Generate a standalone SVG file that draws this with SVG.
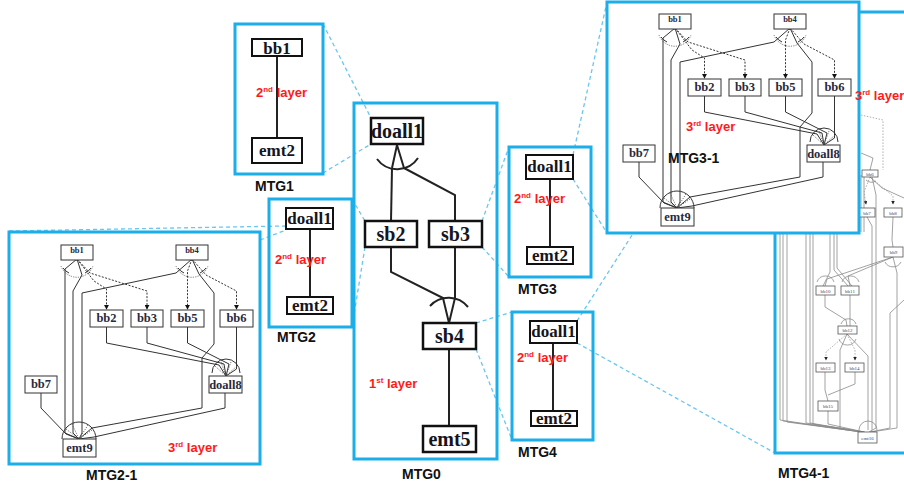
<svg xmlns="http://www.w3.org/2000/svg" width="904" height="487" viewBox="0 0 904 487">
<defs>
<style>
.frame{fill:none;stroke:#1aaeea;stroke-width:3}
.frameW{fill:#fff;stroke:#1aaeea;stroke-width:3}
.zl{fill:none;stroke:#6cc6ee;stroke-width:1.3;stroke-dasharray:4 3}
.nb{fill:#fff;stroke:#111;stroke-width:2.5}
.nb2{fill:#fff;stroke:#111;stroke-width:2}
.nt{font-family:"Liberation Serif","Times New Roman",serif;font-weight:bold;fill:#151520;text-anchor:middle}
.edge{fill:none;stroke:#222;stroke-width:2}
.red{font-family:"Liberation Sans",Arial,sans-serif;font-weight:bold;fill:#ff1a1a;font-size:13px}
.sup{font-size:8px}
.cap{font-family:"Liberation Sans",Arial,sans-serif;font-weight:bold;font-size:14px;fill:#111}
.ib{fill:#fff;stroke:#333;stroke-width:1}
.it{font-family:"Liberation Serif","Times New Roman",serif;font-weight:bold;fill:#2a2a3a;text-anchor:middle;font-size:12.5px}
.its{font-size:8.5px}
.ie{fill:none;stroke:#333;stroke-width:1}
.id{fill:none;stroke:#333;stroke-width:1;stroke-dasharray:2 1.5;marker-end:url(#ah)}
.dot{fill:none;stroke:#555;stroke-width:0.8;stroke-dasharray:1.2 1.2}
.g4{fill:none;stroke:#8a8a8a;stroke-width:0.8}
.g4d{fill:none;stroke:#999;stroke-width:0.8;stroke-dasharray:1.5 1.5}
.tb{fill:#fff;stroke:#555;stroke-width:0.8}
.tt{font-family:"Liberation Serif",serif;font-size:5px;fill:#446;text-anchor:middle}
</style>
<marker id="ah" viewBox="0 0 6 6" refX="5" refY="3" markerWidth="5" markerHeight="5" orient="auto" markerUnits="userSpaceOnUse">
<path d="M0,0 L6,3 L0,6 z" fill="#111"/>
</marker>
<marker id="ah4" viewBox="0 0 6 6" refX="5" refY="3" markerWidth="3.5" markerHeight="3.5" orient="auto" markerUnits="userSpaceOnUse">
<path d="M0,0 L6,3 L0,6 z" fill="#222"/>
</marker>
</defs>

<rect width="904" height="487" fill="#fff"/>

<!-- zoom connectors -->
<g id="connectors">
<line class="zl" x1="323" y1="24" x2="371" y2="118"/>
<line class="zl" x1="323" y1="173" x2="371" y2="144"/>
<line class="zl" x1="352" y1="199" x2="365" y2="221"/>
<line class="zl" x1="352" y1="327" x2="365" y2="247"/>
<line class="zl" x1="9" y1="231" x2="286" y2="226"/>
<line class="zl" x1="260" y1="240" x2="286" y2="230"/>
<line class="zl" x1="482" y1="221" x2="509" y2="147"/>
<line class="zl" x1="482" y1="247" x2="509" y2="277"/>
<line class="zl" x1="476" y1="323" x2="512" y2="312"/>
<line class="zl" x1="476" y1="349" x2="512" y2="440"/>
<line class="zl" x1="573" y1="155" x2="607" y2="2"/>
<line class="zl" x1="573" y1="179" x2="607" y2="233"/>
<line class="zl" x1="577" y1="321" x2="775" y2="12"/>
<line class="zl" x1="577" y1="343" x2="775" y2="453"/>
</g>

<!-- MTG4-1 (partly hidden) -->
<g id="mtg4-1">
<rect class="frameW" x="775" y="12" width="140" height="441"/>
<path class="g4d" d="M861,115 L883,120 L883,170"/>
<path class="g4" d="M861,153 L873,158 L870,170"/>
<path class="g4" d="M861,175 L861,232 M864,176 L864,232"/>
<path class="g4d" d="M870,177 L864,192 L866,204" marker-end="url(#ah4)"/>
<path class="g4d" d="M870,177 L893,196 L893,204" marker-end="url(#ah4)"/>
<path class="g4" d="M870,177 L882,188 L904,198"/>
<path class="g4" d="M866,180 A8,8 0 0 0 876,181"/>
<path class="g4" d="M872,177 L876,195 L876,428 L869,432"/>
<path class="g4" d="M867,217 L872,226 L872,430"/>
<path class="g4" d="M893,217 L892,240 L893,247"/>
<path class="g4" d="M893,257 L848,276 L850,286"/>
<path class="g4" d="M893,257 L827,279 L825,286"/>
<path class="g4" d="M893,257 L897,273 L897,428 L871,432"/>
<path class="g4" d="M885,262 A9,9 0 0 0 901,262"/>
<path class="g4" d="M904,300 L890,313 L890,428 L870,432"/>
<path class="g4" d="M780,233 L780,420 L861,432 M783,233 L783,421 L862,432 M787,233 L787,422 L862,432"/>
<path class="g4" d="M806,233 L806,423 L863,432 M810,233 L810,423 L863,432 M813,233 L813,424 L864,432"/>
<path class="g4" d="M830,233 L830,272 L823,286 M834,233 L834,270 L848,286 M837,233 L837,268 L852,286"/>
<path class="g4" d="M817,282 A9,9 0 0 1 834,282 M842,282 A9,9 0 0 1 859,282"/>
<path class="g4" d="M825,295 L825,307 L846,320 L847,326"/>
<path class="g4" d="M850,295 L850,326"/>
<path class="g4" d="M841,324 A8,8 0 0 1 856,324"/>
<path class="g4d" d="M847,334 L826,352 L826,360" marker-end="url(#ah4)"/>
<path class="g4d" d="M847,334 L855,350 L855,360" marker-end="url(#ah4)"/>
<path class="g4" d="M847,334 L840,350 L840,428 L865,432"/>
<path class="g4" d="M847,334 L868,356 L868,430"/>
<path class="g4" d="M839,339 A9,9 0 0 0 856,339"/>
<path class="g4" d="M825,372 L825,390 L828,401"/>
<path class="g4" d="M855,372 L855,384 L828,395"/>
<path class="g4" d="M828,411 L828,424 L864,432"/>
<path class="g4" d="M859,430 A9,9 0 0 1 877,430"/>
<g id="mtg4-1-bb6"><rect class="tb" x="862" y="170" width="16" height="7"/><text class="tt" x="870" y="175.5">bb6</text></g>
<g id="mtg4-1-bb7"><rect class="tb" x="859" y="208" width="16" height="9"/><text class="tt" x="867" y="214.5">bb7</text></g>
<g id="mtg4-1-bb8"><rect class="tb" x="884" y="208" width="18" height="9"/><text class="tt" x="893" y="214.5">bb8</text></g>
<g id="mtg4-1-bb9"><rect class="tb" x="884" y="247" width="19" height="10"/><text class="tt" x="893.5" y="254">bb9</text></g>
<g id="mtg4-1-bb10"><rect class="tb" x="816" y="286" width="19" height="9"/><text class="tt" x="825.5" y="292.5">bb10</text></g>
<g id="mtg4-1-bb11"><rect class="tb" x="841" y="286" width="18" height="9"/><text class="tt" x="850" y="292.5">bb11</text></g>
<g id="mtg4-1-bb12"><rect class="tb" x="838" y="326" width="19" height="8"/><text class="tt" x="847.5" y="332">bb12</text></g>
<g id="mtg4-1-bb13"><rect class="tb" x="816" y="363" width="19" height="9"/><text class="tt" x="825.5" y="369.5">bb13</text></g>
<g id="mtg4-1-bb14"><rect class="tb" x="845" y="363" width="19" height="9"/><text class="tt" x="854.5" y="369.5">bb14</text></g>
<g id="mtg4-1-bb15"><rect class="tb" x="818" y="401" width="20" height="10"/><text class="tt" x="828" y="408">bb15</text></g>
<g id="mtg4-1-emt16"><rect class="tb" x="858" y="432" width="19" height="11"/><text class="tt" x="867.5" y="439.5">emt16</text></g>
<text class="cap" x="778" y="478">MTG4-1</text>
</g>

<!-- MTG1 -->
<g id="mtg1">
<rect class="frame" x="235" y="24" width="88" height="150"/>
<line class="edge" x1="277" y1="56" x2="277" y2="138"/>
<g id="mtg1-bb1"><rect class="nb2" x="252" y="39" width="50" height="17"/><text class="nt" x="277" y="54" font-size="17">bb1</text></g>
<g id="mtg1-emt2"><rect class="nb2" x="252" y="138" width="50" height="25"/><text class="nt" x="277" y="156" font-size="17">emt2</text></g>
<text class="red" x="256" y="97">2<tspan class="sup" dy="-5">nd</tspan><tspan dy="5"> layer</tspan></text>
<text class="cap" x="255" y="191">MTG1</text>
</g>

<!-- MTG2 -->
<g id="mtg2">
<rect class="frame" x="269" y="199" width="83" height="128"/>
<line class="edge" x1="310" y1="229" x2="310" y2="297"/>
<g id="mtg2-doall1"><rect class="nb2" x="286" y="208" width="47" height="21"/><text class="nt" x="309.5" y="224" font-size="17">doall1</text></g>
<g id="mtg2-emt2"><rect class="nb2" x="287" y="297" width="46" height="17"/><text class="nt" x="310" y="311" font-size="17">emt2</text></g>
<text class="red" x="275" y="264">2<tspan class="sup" dy="-5">nd</tspan><tspan dy="5"> layer</tspan></text>
<text class="cap" x="277" y="342">MTG2</text>
</g>

<!-- MTG3 -->
<g id="mtg3">
<rect class="frame" x="509" y="147" width="82" height="130"/>
<line class="edge" x1="550" y1="179" x2="550" y2="247"/>
<g id="mtg3-doall1"><rect class="nb2" x="526" y="155" width="47" height="24"/><text class="nt" x="549.5" y="172" font-size="17">doall1</text></g>
<g id="mtg3-emt2"><rect class="nb2" x="527" y="247" width="46" height="17"/><text class="nt" x="550" y="261" font-size="17">emt2</text></g>
<text class="red" x="514" y="203">2<tspan class="sup" dy="-5">nd</tspan><tspan dy="5"> layer</tspan></text>
<text class="cap" x="518" y="294">MTG3</text>
</g>

<!-- MTG4 -->
<g id="mtg4">
<rect class="frame" x="512" y="312" width="81" height="128"/>
<line class="edge" x1="553" y1="343" x2="553" y2="412"/>
<g id="mtg4-doall1"><rect class="nb2" x="530" y="321" width="47" height="22"/><text class="nt" x="553.5" y="337" font-size="17">doall1</text></g>
<g id="mtg4-emt2"><rect class="nb2" x="531" y="411" width="46" height="15"/><text class="nt" x="554" y="424" font-size="17">emt2</text></g>
<text class="red" x="517" y="362">2<tspan class="sup" dy="-5">nd</tspan><tspan dy="5"> layer</tspan></text>
<text class="cap" x="518" y="457">MTG4</text>
</g>

<!-- MTG0 -->
<g id="mtg0">
<rect class="frame" x="354" y="103" width="143" height="356"/>
<g id="mtg0-edges">
<path class="edge" d="M397,145 L392,168 M397,145 L404,168"/>
<path class="edge" stroke-width="1.6" d="M377,159 A25,25 0 0 0 418,158"/>
<path class="edge" d="M392,168 L391,221"/>
<path class="edge" d="M404,168 L455,195 L455,221"/>
<path class="edge" d="M391,247 L391,272 L443,298 L449,323"/>
<path class="edge" d="M455,247 L455,298 L449,323"/>
<path class="edge" stroke-width="1.6" d="M430,306 A25,25 0 0 1 468,307"/>
<path class="edge" d="M449,349 L449,426"/>
</g>
<g id="mtg0-doall1"><rect class="nb" x="371" y="118" width="52" height="26"/><text class="nt" x="397" y="138" font-size="20">doall1</text></g>
<g id="mtg0-sb2"><rect class="nb" x="365" y="221" width="52" height="26"/><text class="nt" x="391" y="241" font-size="20">sb2</text></g>
<g id="mtg0-sb3"><rect class="nb" x="429" y="221" width="53" height="26"/><text class="nt" x="455.5" y="241" font-size="20">sb3</text></g>
<g id="mtg0-sb4"><rect class="nb" x="423" y="323" width="53" height="26"/><text class="nt" x="449.5" y="343" font-size="20">sb4</text></g>
<g id="mtg0-emt5"><rect class="nb" x="423" y="426" width="53" height="26"/><text class="nt" x="449.5" y="446" font-size="20">emt5</text></g>
<text class="red" x="369" y="388">1<tspan class="sup" dy="-5">st</tspan><tspan dy="5"> layer</tspan></text>
<text class="cap" x="402" y="479">MTG0</text>
</g>

<!-- MTG2-1 -->
<g id="mtg2-1">
<rect class="frame" x="9" y="232" width="251" height="232"/>
<g transform="translate(2,231)">
<g id="mtg2-1-edges">
<path class="ie" d="M75,28 L63,38 L63,202 L77,208"/>
<path class="ie" d="M75,28 L80,44 L71,60 L71,202 L77,208"/>
<path class="ie" d="M190,28 L174,42 L80,62 L80,202 L77,208"/>
<path class="ie" d="M190,28 L197,43 L212,62 L212,113 L200,127 L200,177 L90,197 L77,208"/>
<path class="ie" d="M223,162 L223,177 L92,206 L77,208"/>
<path class="ie" d="M39,162 L39,177 L64,203 L77,208"/>
<path class="ie" d="M104.5,96 L104.5,112 L217,134 L224,145"/>
<path class="ie" d="M145,96 L145,112 L222,133 L224,145"/>
<path class="ie" d="M185.5,96 L185.5,112 L227,133 L224,145"/>
<path class="ie" d="M234.5,96 L234.5,138 L224,145"/>
<path class="id" d="M75,28 L92,50 L104.5,58 L104.5,78"/>
<path class="id" d="M75,28 L88,42 L145,60 L145,78"/>
<path class="id" d="M190,28 L185.5,40 L185.5,78"/>
<path class="id" d="M190,28 L204,44 L234.5,60 L234.5,78"/>
<path class="dot" d="M59,35 A17,17 0 0 0 91,35 M174,35 A17,17 0 0 0 206,35"/>
<path class="ie" d="M61,37 A15,15 0 0 0 67,42 M83,42 A15,15 0 0 0 89,37 M176,37 A15,15 0 0 0 182,42 M198,42 A15,15 0 0 0 204,37"/>
<path class="ie" d="M60,208 A17,17 0 0 1 94,208"/>
<path class="dot" d="M64,198 L77,208 M70,193 L77,208 M86,194 L77,208 M90,199 L77,208"/>
<path class="ie" d="M210,142 A14,14 0 0 1 238,142"/>
<path class="dot" d="M213,135 L224,145 M219,131 L224,145 M229,131 L224,145 M235,135 L224,145"/>
<circle cx="75" cy="27.5" r="1.8" fill="#fff" stroke="#333" stroke-width="0.8"/>
<circle cx="190" cy="27.5" r="1.8" fill="#fff" stroke="#333" stroke-width="0.8"/>
</g>
<g id="mtg2-1-bb1"><rect class="ib" x="59" y="14" width="32" height="15"/><text class="it its" x="75" y="22">bb1</text></g>
<g id="mtg2-1-bb4"><rect class="ib" x="174" y="14" width="32" height="15"/><text class="it its" x="190" y="22">bb4</text></g>
<g id="mtg2-1-bb2"><rect class="ib" x="88" y="79" width="33" height="17"/><text class="it" x="104.5" y="91">bb2</text></g>
<g id="mtg2-1-bb3"><rect class="ib" x="129" y="79" width="32" height="17"/><text class="it" x="145" y="91">bb3</text></g>
<g id="mtg2-1-bb5"><rect class="ib" x="169" y="79" width="33" height="17"/><text class="it" x="185.5" y="91">bb5</text></g>
<g id="mtg2-1-bb6"><rect class="ib" x="218" y="79" width="33" height="17"/><text class="it" x="234.5" y="91">bb6</text></g>
<g id="mtg2-1-bb7"><rect class="ib" x="23" y="145" width="32" height="17"/><text class="it" x="39" y="157">bb7</text></g>
<g id="mtg2-1-doall8"><rect class="ib" x="207" y="145" width="33" height="17"/><text class="it" x="223.5" y="158">doall8</text></g>
<g id="mtg2-1-emt9"><rect class="ib" x="61" y="208" width="33" height="18"/><text class="it" x="77.5" y="221">emt9</text></g>
</g>
<text class="red" x="168" y="452">3<tspan class="sup" dy="-5">rd</tspan><tspan dy="5"> layer</tspan></text>
<text class="cap" x="86" y="480">MTG2-1</text>
</g>

<!-- MTG3-1 -->
<g id="mtg3-1">
<rect class="frameW" x="607" y="2" width="252" height="231"/>
<g transform="translate(600,0)">
<g id="mtg3-1-edges">
<path class="ie" d="M75,28 L63,38 L63,202 L77,208"/>
<path class="ie" d="M75,28 L80,44 L71,60 L71,202 L77,208"/>
<path class="ie" d="M190,28 L174,42 L80,62 L80,202 L77,208"/>
<path class="ie" d="M190,28 L197,43 L212,62 L212,113 L200,127 L200,177 L90,197 L77,208"/>
<path class="ie" d="M223,162 L223,177 L92,206 L77,208"/>
<path class="ie" d="M39,162 L39,177 L64,203 L77,208"/>
<path class="ie" d="M104.5,96 L104.5,112 L217,134 L224,145"/>
<path class="ie" d="M145,96 L145,112 L222,133 L224,145"/>
<path class="ie" d="M185.5,96 L185.5,112 L227,133 L224,145"/>
<path class="ie" d="M234.5,96 L234.5,138 L224,145"/>
<path class="id" d="M75,28 L92,50 L104.5,58 L104.5,78"/>
<path class="id" d="M75,28 L88,42 L145,60 L145,78"/>
<path class="id" d="M190,28 L185.5,40 L185.5,78"/>
<path class="id" d="M190,28 L204,44 L234.5,60 L234.5,78"/>
<path class="dot" d="M59,35 A17,17 0 0 0 91,35 M174,35 A17,17 0 0 0 206,35"/>
<path class="ie" d="M61,37 A15,15 0 0 0 67,42 M83,42 A15,15 0 0 0 89,37 M176,37 A15,15 0 0 0 182,42 M198,42 A15,15 0 0 0 204,37"/>
<path class="ie" d="M60,208 A17,17 0 0 1 94,208"/>
<path class="dot" d="M64,198 L77,208 M70,193 L77,208 M86,194 L77,208 M90,199 L77,208"/>
<path class="ie" d="M210,142 A14,14 0 0 1 238,142"/>
<path class="dot" d="M213,135 L224,145 M219,131 L224,145 M229,131 L224,145 M235,135 L224,145"/>
<circle cx="75" cy="27.5" r="1.8" fill="#fff" stroke="#333" stroke-width="0.8"/>
<circle cx="190" cy="27.5" r="1.8" fill="#fff" stroke="#333" stroke-width="0.8"/>
</g>
<g id="mtg3-1-bb1"><rect class="ib" x="59" y="14" width="32" height="15"/><text class="it its" x="75" y="22">bb1</text></g>
<g id="mtg3-1-bb4"><rect class="ib" x="174" y="14" width="32" height="15"/><text class="it its" x="190" y="22">bb4</text></g>
<g id="mtg3-1-bb2"><rect class="ib" x="88" y="79" width="33" height="17"/><text class="it" x="104.5" y="91">bb2</text></g>
<g id="mtg3-1-bb3"><rect class="ib" x="129" y="79" width="32" height="17"/><text class="it" x="145" y="91">bb3</text></g>
<g id="mtg3-1-bb5"><rect class="ib" x="169" y="79" width="33" height="17"/><text class="it" x="185.5" y="91">bb5</text></g>
<g id="mtg3-1-bb6"><rect class="ib" x="218" y="79" width="33" height="17"/><text class="it" x="234.5" y="91">bb6</text></g>
<g id="mtg3-1-bb7"><rect class="ib" x="23" y="145" width="32" height="17"/><text class="it" x="39" y="157">bb7</text></g>
<g id="mtg3-1-doall8"><rect class="ib" x="207" y="145" width="33" height="17"/><text class="it" x="223.5" y="158">doall8</text></g>
<g id="mtg3-1-emt9"><rect class="ib" x="61" y="208" width="33" height="18"/><text class="it" x="77.5" y="221">emt9</text></g>
</g>
<text class="red" x="686" y="131">3<tspan class="sup" dy="-5">rd</tspan><tspan dy="5"> layer</tspan></text>
<text class="cap" x="668" y="163" font-size="14.5">MTG3-1</text>
</g>

<text id="mtg4-1-layer" class="red" x="855" y="100">3<tspan class="sup" dy="-5">rd</tspan><tspan dy="5"> layer</tspan></text>
</svg>
